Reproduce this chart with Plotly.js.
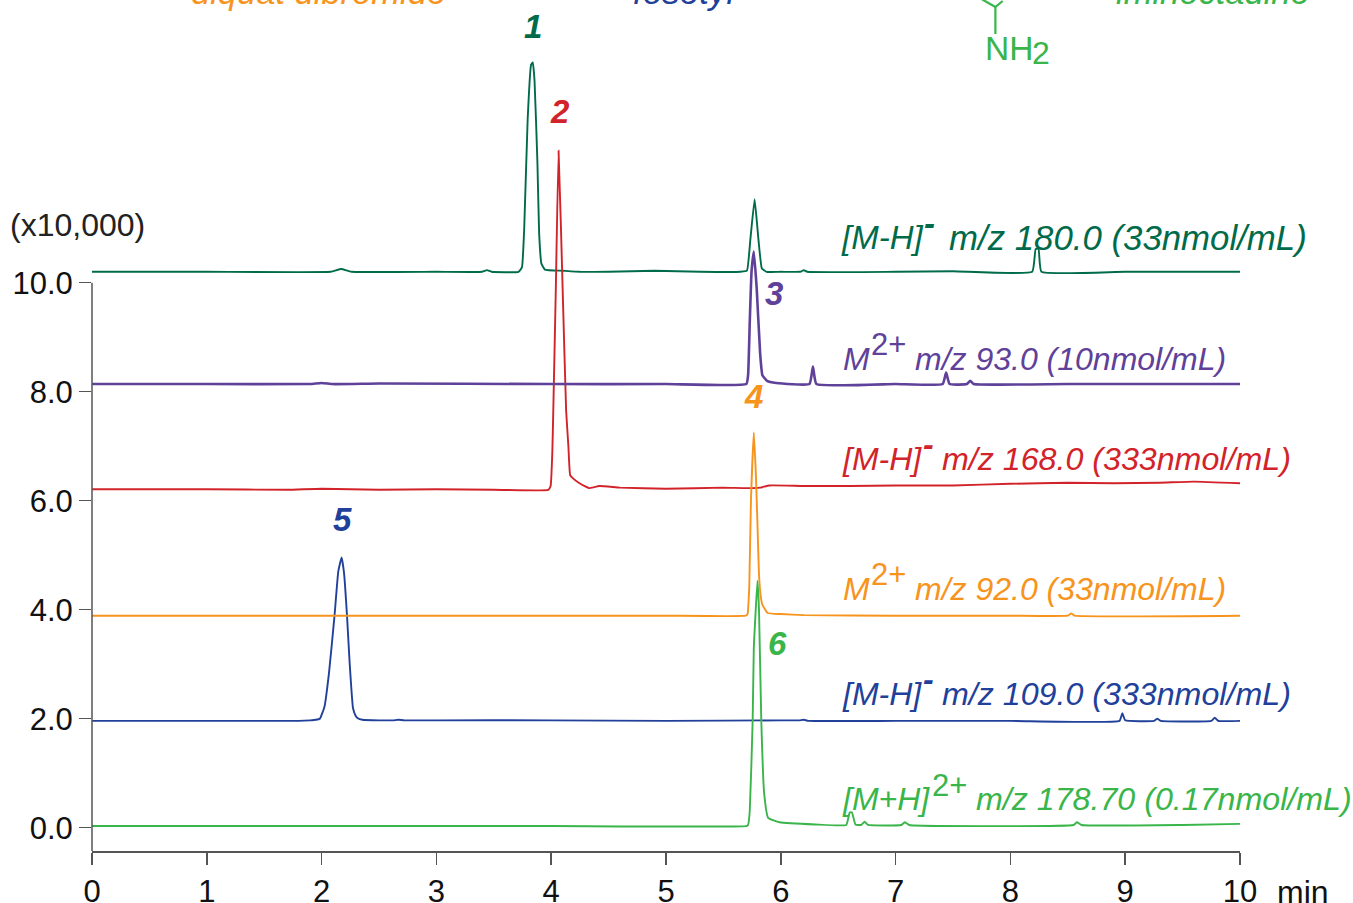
<!DOCTYPE html>
<html><head><meta charset="utf-8">
<script src="https://cdn.plot.ly/plotly-3.0.1.min.js"></script>
<style>html,body{margin:0;padding:0;background:#fff;overflow:hidden}</style>
</head><body><div id="chart" style="width:1353px;height:903px"></div>
<script>
const fosetylT=[0,0.5,1,1.5,1.8,1.9,1.95,1.985,2.025,2.065,2.113,2.145,2.174,2.195,2.221,2.245,2.273,2.295,2.315,2.355,2.5,2.62,2.67,2.72,3,4,5,6,6.16,6.2,6.24,7,8,8.95,8.975,9.0,9.25,9.28,9.31,9.75,9.78,9.81,10];
const fosetylV=[1.96,1.96,1.96,1.96,1.96,1.97,1.98,2.0,2.22,2.85,3.9,4.7,4.96,4.68,3.9,3.0,2.2,2.06,2.01,1.98,1.97,1.97,1.98,1.97,1.97,1.97,1.96,1.97,1.97,1.98,1.96,1.96,1.96,1.96,2.1,1.97,1.96,2.0,1.96,1.96,2.02,1.96,1.96];
const peak1T=[0,1,2.08,2.17,2.26,3,3.4,3.44,3.48,3.715,3.745,3.765,3.795,3.825,3.84,3.855,3.88,3.895,3.915,3.945,4.1,4.25,4.5,4.9,5.3,5.65,5.705,5.735,5.772,5.805,5.835,5.875,6,6.17,6.2,6.23,7,7.5,8.19,8.22,8.245,8.27,9,10];
const peak1V=[10.2,10.2,10.2,10.25,10.2,10.2,10.2,10.23,10.2,10.2,10.28,11.0,13.0,14.0,14.04,13.7,12.2,10.9,10.35,10.24,10.22,10.2,10.2,10.22,10.2,10.2,10.22,10.8,11.53,10.8,10.26,10.2,10.2,10.2,10.23,10.2,10.2,10.21,10.2,10.62,10.62,10.2,10.2,10.2];
const peak2T=[0,1,1.7,2,2.5,3,3.5,3.975,3.995,4.01,4.02,4.04,4.064,4.1,4.13,4.15,4.165,4.19,4.24,4.3,4.33,4.42,4.6,5,5.5,5.7,5.82,5.9,6.2,6.6,7,7.5,8,8.5,8.9,9.3,9.6,10];
const peak2V=[6.21,6.21,6.2,6.22,6.2,6.21,6.2,6.2,6.27,6.9,7.84,9.86,12.42,9.86,7.66,6.99,6.47,6.41,6.33,6.26,6.23,6.27,6.24,6.22,6.24,6.23,6.24,6.28,6.27,6.27,6.28,6.28,6.31,6.33,6.32,6.33,6.35,6.32];
const peak3T=[0,1,1.9,2,2.1,2.5,4,5,5.7,5.715,5.73,5.745,5.765,5.79,5.82,5.84,5.88,5.96,6.25,6.28,6.31,7,7.41,7.44,7.47,7.62,7.65,7.68,8.5,10];
const peak3V=[8.14,8.14,8.14,8.16,8.14,8.15,8.14,8.14,8.14,8.3,9.3,10.2,10.57,9.9,8.7,8.3,8.2,8.16,8.14,8.46,8.14,8.14,8.14,8.35,8.14,8.14,8.2,8.14,8.14,8.14];
const peak4T=[0,1,2,3,4,5,5.695,5.71,5.725,5.74,5.765,5.783,5.797,5.81,5.825,5.84,5.885,6,6.2,7,8,8.5,8.53,8.56,10];
const peak4V=[3.89,3.89,3.89,3.89,3.89,3.89,3.89,3.92,4.4,6.0,7.25,6.47,5.55,4.64,4.25,4.09,3.94,3.92,3.9,3.89,3.89,3.89,3.93,3.89,3.89];
const peak6T=[0,2,4,5.7,5.715,5.73,5.755,5.765,5.797,5.81,5.83,5.855,5.89,5.99,6.3,6.57,6.6,6.62,6.65,6.7,6.73,6.76,7.05,7.08,7.12,8.55,8.58,8.62,9.5,10];
const peak6V=[0.03,0.03,0.03,0.03,0.05,0.32,1.97,3.3,4.53,4.0,1.97,0.63,0.18,0.1,0.06,0.05,0.28,0.28,0.06,0.05,0.11,0.05,0.05,0.1,0.05,0.05,0.1,0.05,0.05,0.07];
const xTicks=[0,1,2,3,4,5,6,7,8,9,10];
const yTicks=[0,2,4,6,8,10];
const yTickText=['0.0','2.0','4.0','6.0','8.0','10.0'];
const NAVY='#21409a',DKGREEN='#006b4a',RED='#d2232a',PURPLE='#5f4199',ORANGE='#f7941d',GREEN='#39b54a';
const W=1353,H=903;
const py=y=>1-y/851;
const line=(t,v,c,w)=>({x:t,y:v,type:'scatter',mode:'lines',line:{color:c,width:w,shape:'spline',smoothing:0.35},hoverinfo:'skip',showlegend:false});
const traces=[line(fosetylT,fosetylV,NAVY,1.9),line(peak1T,peak1V,DKGREEN,1.9),line(peak2T,peak2V,RED,1.9),line(peak3T,peak3V,PURPLE,2.6),line(peak4T,peak4V,ORANGE,1.9),line(peak6T,peak6V,GREEN,1.9)];
const F='"Liberation Sans",Arial,sans-serif';
function T(x,y,text,color,size,opt){opt=opt||{};
 return {xref:'paper',yref:'paper',x:(x-92.3)/(1240.3-92.3),y:py(y),text:text,showarrow:false,xanchor:opt.a||'left',yanchor:'middle',borderpad:0,
  font:{family:F,size:size,color:color,style:opt.n?'normal':'italic',weight:opt.b?'bold':'normal'}};}
const n={n:true},b={b:true};
const ann=[
 T(190.5,-8,'diquat dibromide',ORANGE,34.5),T(632,-8,'fosetyl',NAVY,35),T(1115,-8,'iminoctadine',GREEN,34.5),
 T(984,49,'NH',GREEN,33.5,n),T(1031,53,'2',GREEN,32,n),
 T(533,27,'1',DKGREEN,33,{b:true,a:'center'}),T(560,111,'2',RED,33,{b:true,a:'center'}),T(774,293,'3',PURPLE,33,{b:true,a:'center'}),
 T(753.5,397,'4',ORANGE,33,{b:true,a:'center'}),T(342.5,519,'5',NAVY,33,{b:true,a:'center'}),T(778,643,'6',GREEN,33,{b:true,a:'center'}),
 T(840.5,237,'[M-H]',DKGREEN,33),T(923,223,'-',DKGREEN,33,b),T(948,237,'m/z 180.0 (33nmol/mL)',DKGREEN,34.8),
 T(842,359,'M',PURPLE,32),T(870,344,'2+',PURPLE,31,n),T(914,359,'m/z 93.0 (10nmol/mL)',PURPLE,32),
 T(841.5,459,'[M-H]',RED,32),T(922,444,'-',RED,32,b),T(941,459,'m/z 168.0 (333nmol/mL)',RED,32.2),
 T(842,589,'M',ORANGE,32),T(870,574,'2+',ORANGE,31,n),T(914,589,'m/z 92.0 (33nmol/mL)',ORANGE,32),
 T(841.5,694,'[M-H]',NAVY,32),T(922,679,'-',NAVY,32,b),T(941,694,'m/z 109.0 (333nmol/mL)',NAVY,32.2),
 T(841.5,799,'[M+H]',GREEN,32),T(931,785,'2+',GREEN,31,n),T(975,799,'m/z 178.70 (0.17nmol/mL)',GREEN,32.2),
 T(9.5,225,'(x10,000)','#222',32,n),T(1276,892,'min','#111',32,n)
];
const mol=(x0,y0,x1,y1)=>({type:'line',xref:'x',yref:'paper',x0:(x0-92.3)/114.8,x1:(x1-92.3)/114.8,y0:py(y0),y1:py(y1),line:{color:GREEN,width:2.2}});
const shapes=[
 {type:'line',xref:'paper',yref:'y',x0:0,x1:0,y0:-0.4275,y1:10,line:{color:'#555',width:1.5}},
 mol(995.7,34,995.7,7),mol(995.7,7,980,-2),mol(995.7,7,1003,1)
];
Plotly.newPlot('chart',traces,{
 width:W,height:H,paper_bgcolor:'#fff',plot_bgcolor:'#fff',showlegend:false,
 margin:{l:92.3,r:112.7,t:0,b:52,pad:0},
 font:{family:F,color:'#111'},
 xaxis:{range:[0,10],tickvals:xTicks,ticktext:xTicks.map(String),ticks:'outside',ticklen:12,tickwidth:1.5,tickcolor:'#555',showline:true,linecolor:'#555',linewidth:1.5,showgrid:false,zeroline:false,tickfont:{family:F,size:31,color:'#111'},tickangle:0},
 yaxis:{range:[-0.4275,15.187],tickvals:yTicks,ticktext:yTickText,ticks:'outside',ticklen:12,tickwidth:1.5,tickcolor:'#555',showline:false,showgrid:false,zeroline:false,tickfont:{family:F,size:31,color:'#111'}},
 annotations:ann,shapes:shapes
},{displayModeBar:false,staticPlot:true});
</script></body></html>
